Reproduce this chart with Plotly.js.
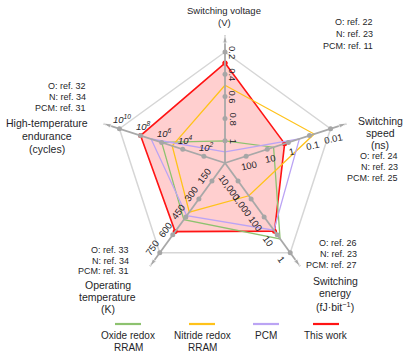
<!DOCTYPE html>
<html><head><meta charset="utf-8">
<script src="https://cdn.plot.ly/plotly-3.0.1.min.js"></script>
<style>html,body{margin:0;padding:0;background:#fff}#chart{width:407px;height:357px}</style>
</head><body><div id="chart"></div>
<script>
// ---- data ----
const axisNames = ['Switching voltage','Switching speed','Switching energy','Operating temperature','High-temperature endurance'];
const seriesNames = ['Oxide redox RRAM','Nitride redox RRAM','PCM','This work'];
const voltage = [1.0, 0.5, 1.1, 0.3];          // V
const speed = [5, 0.06, 0.3, 1.5];              // ns
const energy = [6, 1500, 18, 16];               // fJ/bit
const temperature = [473, 410, 440, 573];       // K
const endurance = [1e6, 1e5, 1e7, 1e8];         // cycles

const voltageTicks = [0.2, 0.4, 0.6, 0.8, 1];
const voltageTickText = ['0.2','0.4','0.6','0.8','1'];
const speedTicks = [100, 10, 1, 0.1, 0.01];
const speedTickText = ['100','10','1','0.1','0.01'];
const energyTicks = [10000, 1000, 100, 10, 1];
const energyTickText = ['10,000','1,000','100','10','1'];
const temperatureTicks = [150, 300, 450, 600, 750];
const temperatureTickText = ['150','300','450','600','750'];
const enduranceTicks = [1e2, 1e4, 1e6, 1e8, 1e10];
const enduranceTickText = ['10<sup>2</sup>','10<sup>4</sup>','10<sup>6</sup>','10<sup>8</sup>','10<sup>10</sup>'];

const axisTitles = [['Switching voltage','(V)'],['Switching','speed','(ns)'],['Switching','energy','(fJ·bit<sup>−1</sup>)'],['Operating','temperature','(K)'],['High-temperature','endurance','(cycles)']];
const axisRefs = [['O: ref. 22','N: ref. 23','PCM: ref. 11'],['O: ref. 24','N: ref. 23','PCM: ref. 25'],['O: ref. 26','N: ref. 23','PCM: ref. 27'],['O: ref. 33','N: ref. 34','PCM: ref. 31'],['O: ref. 32','N: ref. 34','PCM: ref. 31']];
const legendLabels = [['Oxide redox','RRAM'],['Nitride redox','RRAM'],['PCM'],['This work']];

// ---- per-axis scales (value -> fraction of outer frame radius) ----
const scales = [
  v => 1.2 - v,
  v => 0.2 + 0.2 * (2 - Math.log10(v)),
  v => 0.2 + 0.2 * (4 - Math.log10(v)),
  v => v / 750,
  v => Math.log10(v) / 10
];
const columns = [voltage, speed, energy, temperature, endurance];
const tickVals = [voltageTicks, speedTicks, energyTicks, temperatureTicks, enduranceTicks];
const tickTexts = [voltageTickText, speedTickText, energyTickText, temperatureTickText, enduranceTickText];

// ---- styles / geometry ----
const colors = ['#8DC26F', '#FFC21A', '#BBA4F4', '#FF1414'];
const W = 407, H = 357, CX = 225, CY = 163, R = 111, RMAX = 1.2, ARROW = 1.15;
const FONT = 'Liberation Sans, Arial, sans-serif';
const TXT = '#1f1f2a';
const P = (px, py) => ({x: px / W, y: 1 - py / H});
function axisPoint(k, n) {
  const a = (90 - 72 * k) * Math.PI / 180;
  return [CX + R * n * Math.cos(a), CY - R * n * Math.sin(a)];
}

const traces = [];
// outer frame
traces.push({type: 'scatterpolar', r: [1, 1, 1, 1, 1, 1], theta: axisNames.concat([axisNames[0]]),
  mode: 'lines', line: {color: '#D6D6D6', width: 1.5}, showlegend: false, hoverinfo: 'skip'});
// series
const order = [3, 0, 1, 2];
order.forEach(i => {
  const r = columns.map((c, k) => scales[k](c[i]));
  const th = axisNames.slice();
  r.push(r[0]); th.push(th[0]);
  const red = i === 3;
  traces.push({
    type: 'scatterpolar', r: r, theta: th, name: seriesNames[i],
    mode: red ? 'lines+markers' : 'lines',
    line: {color: colors[i], width: red ? 1.6 : 1.3},
    marker: {color: colors[i], size: 5},
    fill: red ? 'toself' : 'none',
    fillcolor: 'rgba(255,0,0,0.19)',
    showlegend: false, hoverinfo: 'skip'
  });
});
// spokes with arrowheads
for (let k = 0; k < 5; k++) {
  traces.push({type: 'scatterpolar', r: [0, ARROW], theta: [axisNames[k], axisNames[k]],
    mode: 'lines+markers', line: {color: '#A8A8A8', width: 1.8},
    marker: {symbol: 'arrow', size: [0, 8], angle: [0, 72 * k], color: '#A8A8A8'},
    showlegend: false, hoverinfo: 'skip'});
}
// tick dots
const dotR = [], dotT = [];
tickVals.forEach((tv, k) => tv.forEach(v => { dotR.push(scales[k](v)); dotT.push(axisNames[k]); }));
traces.push({type: 'scatterpolar', r: dotR, theta: dotT, mode: 'markers',
  marker: {color: '#A6A6A6', size: 5}, showlegend: false, hoverinfo: 'skip'});

const ann = [];
// tick labels
const tickOff = [[8, 0], [3, 9.5], [-8.5, 6.2], [-7.5, -5.5], [3, -9.5]];
const tickAngle = [90, -12, 54, -54, 0];
for (let k = 0; k < 5; k++) {
  tickVals[k].forEach((v, j) => {
    const [x0, y0] = axisPoint(k, scales[k](v));
    const p = P(x0 + tickOff[k][0], y0 + tickOff[k][1]);
    ann.push({x: p.x, y: p.y, xref: 'paper', yref: 'paper', showarrow: false,
      text: tickTexts[k][j],
      textangle: tickAngle[k], xanchor: 'center', yanchor: 'middle',
      font: {family: FONT, size: 9.5, color: TXT, style: k === 4 ? 'italic' : 'normal'}});
  });
}
function txt(s, px, py, size, anchor) {
  const p = P(px, py);
  ann.push({x: p.x, y: p.y, xref: 'paper', yref: 'paper', showarrow: false, text: s,
    xanchor: anchor || 'center', yanchor: 'middle', font: {family: FONT, size: size, color: TXT}});
}
// axis titles
const titlePos = [[224, [10, 23]], [380, [121, 133, 145]], [335, [281, 293, 306]], [108, [285, 297, 309]], [47, [123, 136, 149]]];
const titleSize = [9.5, 10.5, 10.5, 10.5, 10.5];
axisTitles.forEach((lines, k) => lines.forEach((s, j) => txt(s, titlePos[k][0], titlePos[k][1][j], titleSize[k])));
// references
const refPos = [[375, [22, 34, 46]], [400, [156, 167, 178]], [359, [243, 254, 265]], [131, [250, 261, 271]], [88, [86, 97, 108]]];
axisRefs.forEach((lines, k) => lines.forEach((s, j) => txt(s, refPos[k][0], refPos[k][1][j], 9, 'right')));

// manual legend
const legX = [128, 202, 266, 326];
const shapes = [];
legendLabels.forEach((lines, i) => {
  const a = P(legX[i] - 13, 324), b = P(legX[i] + 13, 324);
  shapes.push({type: 'line', xref: 'paper', yref: 'paper', x0: a.x, y0: a.y, x1: b.x, y1: b.y,
    line: {color: colors[i], width: 2.2}});
  lines.forEach((s, j) => txt(s, legX[i], 335 + 12 * j, 10));
});

const RD = R * RMAX;
const layout = {
  width: W, height: H, margin: {l: 0, r: 0, t: 0, b: 0},
  paper_bgcolor: '#fff', showlegend: false,
  polar: {
    domain: {x: [(CX - RD) / W, (CX + RD) / W], y: [1 - (CY + RD) / H, 1 - (CY - RD) / H]},
    bgcolor: 'rgba(0,0,0,0)', gridshape: 'linear',
    angularaxis: {type: 'category', categoryorder: 'array', categoryarray: axisNames,
      rotation: 90, direction: 'clockwise', showgrid: false, showticklabels: false, ticks: '',
      showline: false},
    radialaxis: {range: [0, RMAX], visible: false, showgrid: false, showline: false}
  },
  annotations: ann, shapes: shapes
};
Plotly.newPlot('chart', traces, layout, {staticPlot: true, displayModeBar: false});
</script></body></html>
